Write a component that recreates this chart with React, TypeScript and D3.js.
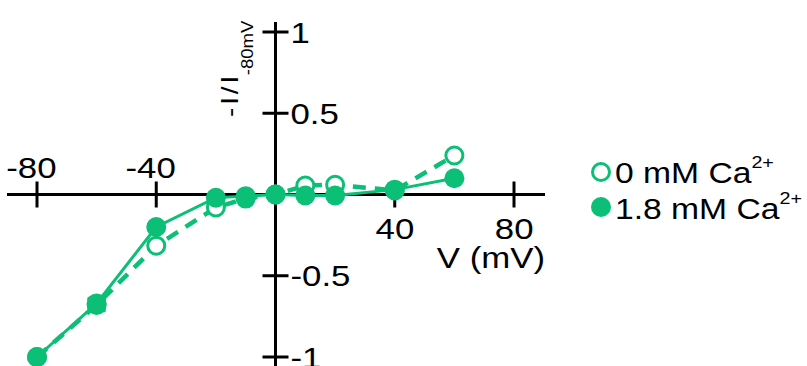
import * as d3 from "d3";

const voltages = [-80, -60, -40, -20, -10, 0, 10, 20, 40, 60];
const ca0 = [-1.0, -0.68, -0.315, -0.08, -0.025, 0, 0.055, 0.06, 0.025, 0.24];
const ca18 = [-1.0, -0.67, -0.2, -0.02, -0.01, 0, -0.006, -0.006, 0.03, 0.1];
const ca0Err = [0, 0.035, 0, 0, 0, 0, 0, 0, 0, 0];
const ca18Err = [0, 0.03, 0, 0, 0, 0, 0, 0, 0, 0];
const xTicks = [-80, -40, 40, 80];
const yTicks = [1, 0.5, -0.5, -1];
const legendLabels = ["0 mM Ca", "1.8 mM Ca"];

const GREEN = "#0bbf76";
const FONT = "Liberation Sans, Arial, sans-serif";
const SX = 1.16; // glyphs in the figure are a bit wider than Arial

function SText({
  x,
  y,
  size,
  anchor = "start",
  children,
}: {
  x: number;
  y: number;
  size: number;
  anchor?: string;
  children: any;
}) {
  return (
    <text
      transform={`translate(${x},${y}) scale(${SX},1)`}
      fontSize={size}
      textAnchor={anchor}
      fill="#000"
    >
      {children}
    </text>
  );
}

const fmt = (t: number) => (t < 0 ? `-${Math.abs(t)}` : `${t}`);

export default function App() {
  const width = 807;
  const height = 366;

  const x = d3.scaleLinear().domain([-80, 80]).range([37, 514]);
  const y = d3.scaleLinear().domain([-1, 1]).range([357, 32]);
  const x0 = x(0);
  const y0 = y(0);

  const line = d3
    .line<[number, number]>()
    .x((d) => x(d[0]))
    .y((d) => y(d[1]));

  const open = voltages.map((v, i) => [v, ca0[i]] as [number, number]);
  const filled = voltages.map((v, i) => [v, ca18[i]] as [number, number]);

  const errBars = (vals: number[], errs: number[]) =>
    voltages.map((v, i) =>
      errs[i] > 0 ? (
        <g key={i} stroke={GREEN} strokeWidth={3}>
          <line x1={x(v)} x2={x(v)} y1={y(vals[i] + errs[i])} y2={y(vals[i] - errs[i])} />
          <line x1={x(v) - 9} x2={x(v) + 9} y1={y(vals[i] + errs[i])} y2={y(vals[i] + errs[i])} />
          <line x1={x(v) - 9} x2={x(v) + 9} y1={y(vals[i] - errs[i])} y2={y(vals[i] - errs[i])} />
        </g>
      ) : null
    );

  return (
    <svg
      width={width}
      height={height}
      style={{ position: "absolute", left: 0, top: 0, background: "#fff" }}
      fontFamily={FONT}
    >
      {/* axes */}
      <g stroke="#000" strokeWidth={3}>
        <line x1={7} x2={545} y1={y0} y2={y0} />
        <line x1={x0} x2={x0} y1={22} y2={366} />
        {xTicks.map((t) => (
          <line key={t} x1={x(t)} x2={x(t)} y1={y0 - 13} y2={y0 + 13} />
        ))}
        {yTicks.map((t) => (
          <line key={t} x1={x0 - 13} x2={x0 + 13} y1={y(t)} y2={y(t)} />
        ))}
      </g>
      {xTicks.map((t) => (
        <SText key={t} x={x(t) + 19.5} y={t < 0 ? 178 : 239} size={30} anchor="end">
          {fmt(t)}
        </SText>
      ))}
      {yTicks.map((t) => (
        <SText key={t} x={x0 + 15} y={y(t) + 10.5} size={30}>
          {fmt(t)}
        </SText>
      ))}
      <SText x={545} y={268} size={30} anchor="end">
        V (mV)
      </SText>
      <text
        transform={`translate(238,117) rotate(-90) scale(${SX},1)`}
        fontSize={24}
        fill="#000"
      >
        <tspan letterSpacing={2.5}>-I/I</tspan>
        <tspan fontSize={16} dy={15} dx={-2}>
          -80mV
        </tspan>
      </text>

      {/* 0 mM series */}
      {errBars(ca0, ca0Err)}
      <path
        d={line(open) ?? ""}
        fill="none"
        stroke={GREEN}
        strokeWidth={4.5}
        strokeDasharray="13 9"
      />
      {open.map((d, i) => (
        <circle key={i} cx={x(d[0])} cy={y(d[1])} r={8.5} fill="#fff" stroke={GREEN} strokeWidth={3} />
      ))}

      {/* 1.8 mM series */}
      {errBars(ca18, ca18Err)}
      <path d={line(filled) ?? ""} fill="none" stroke={GREEN} strokeWidth={3} />
      {filled.map((d, i) => (
        <circle key={i} cx={x(d[0])} cy={y(d[1])} r={10} fill={GREEN} />
      ))}

      {/* legend */}
      <circle cx={601} cy={172} r={8.5} fill="#fff" stroke={GREEN} strokeWidth={3} />
      <circle cx={601} cy={207} r={10} fill={GREEN} />
      {legendLabels.map((l, i) => (
        <SText key={l} x={615} y={183 + i * 36} size={29}>
          {l}
          <tspan fontSize={17} dy={-15}>
            2+
          </tspan>
        </SText>
      ))}
    </svg>
  );
}
